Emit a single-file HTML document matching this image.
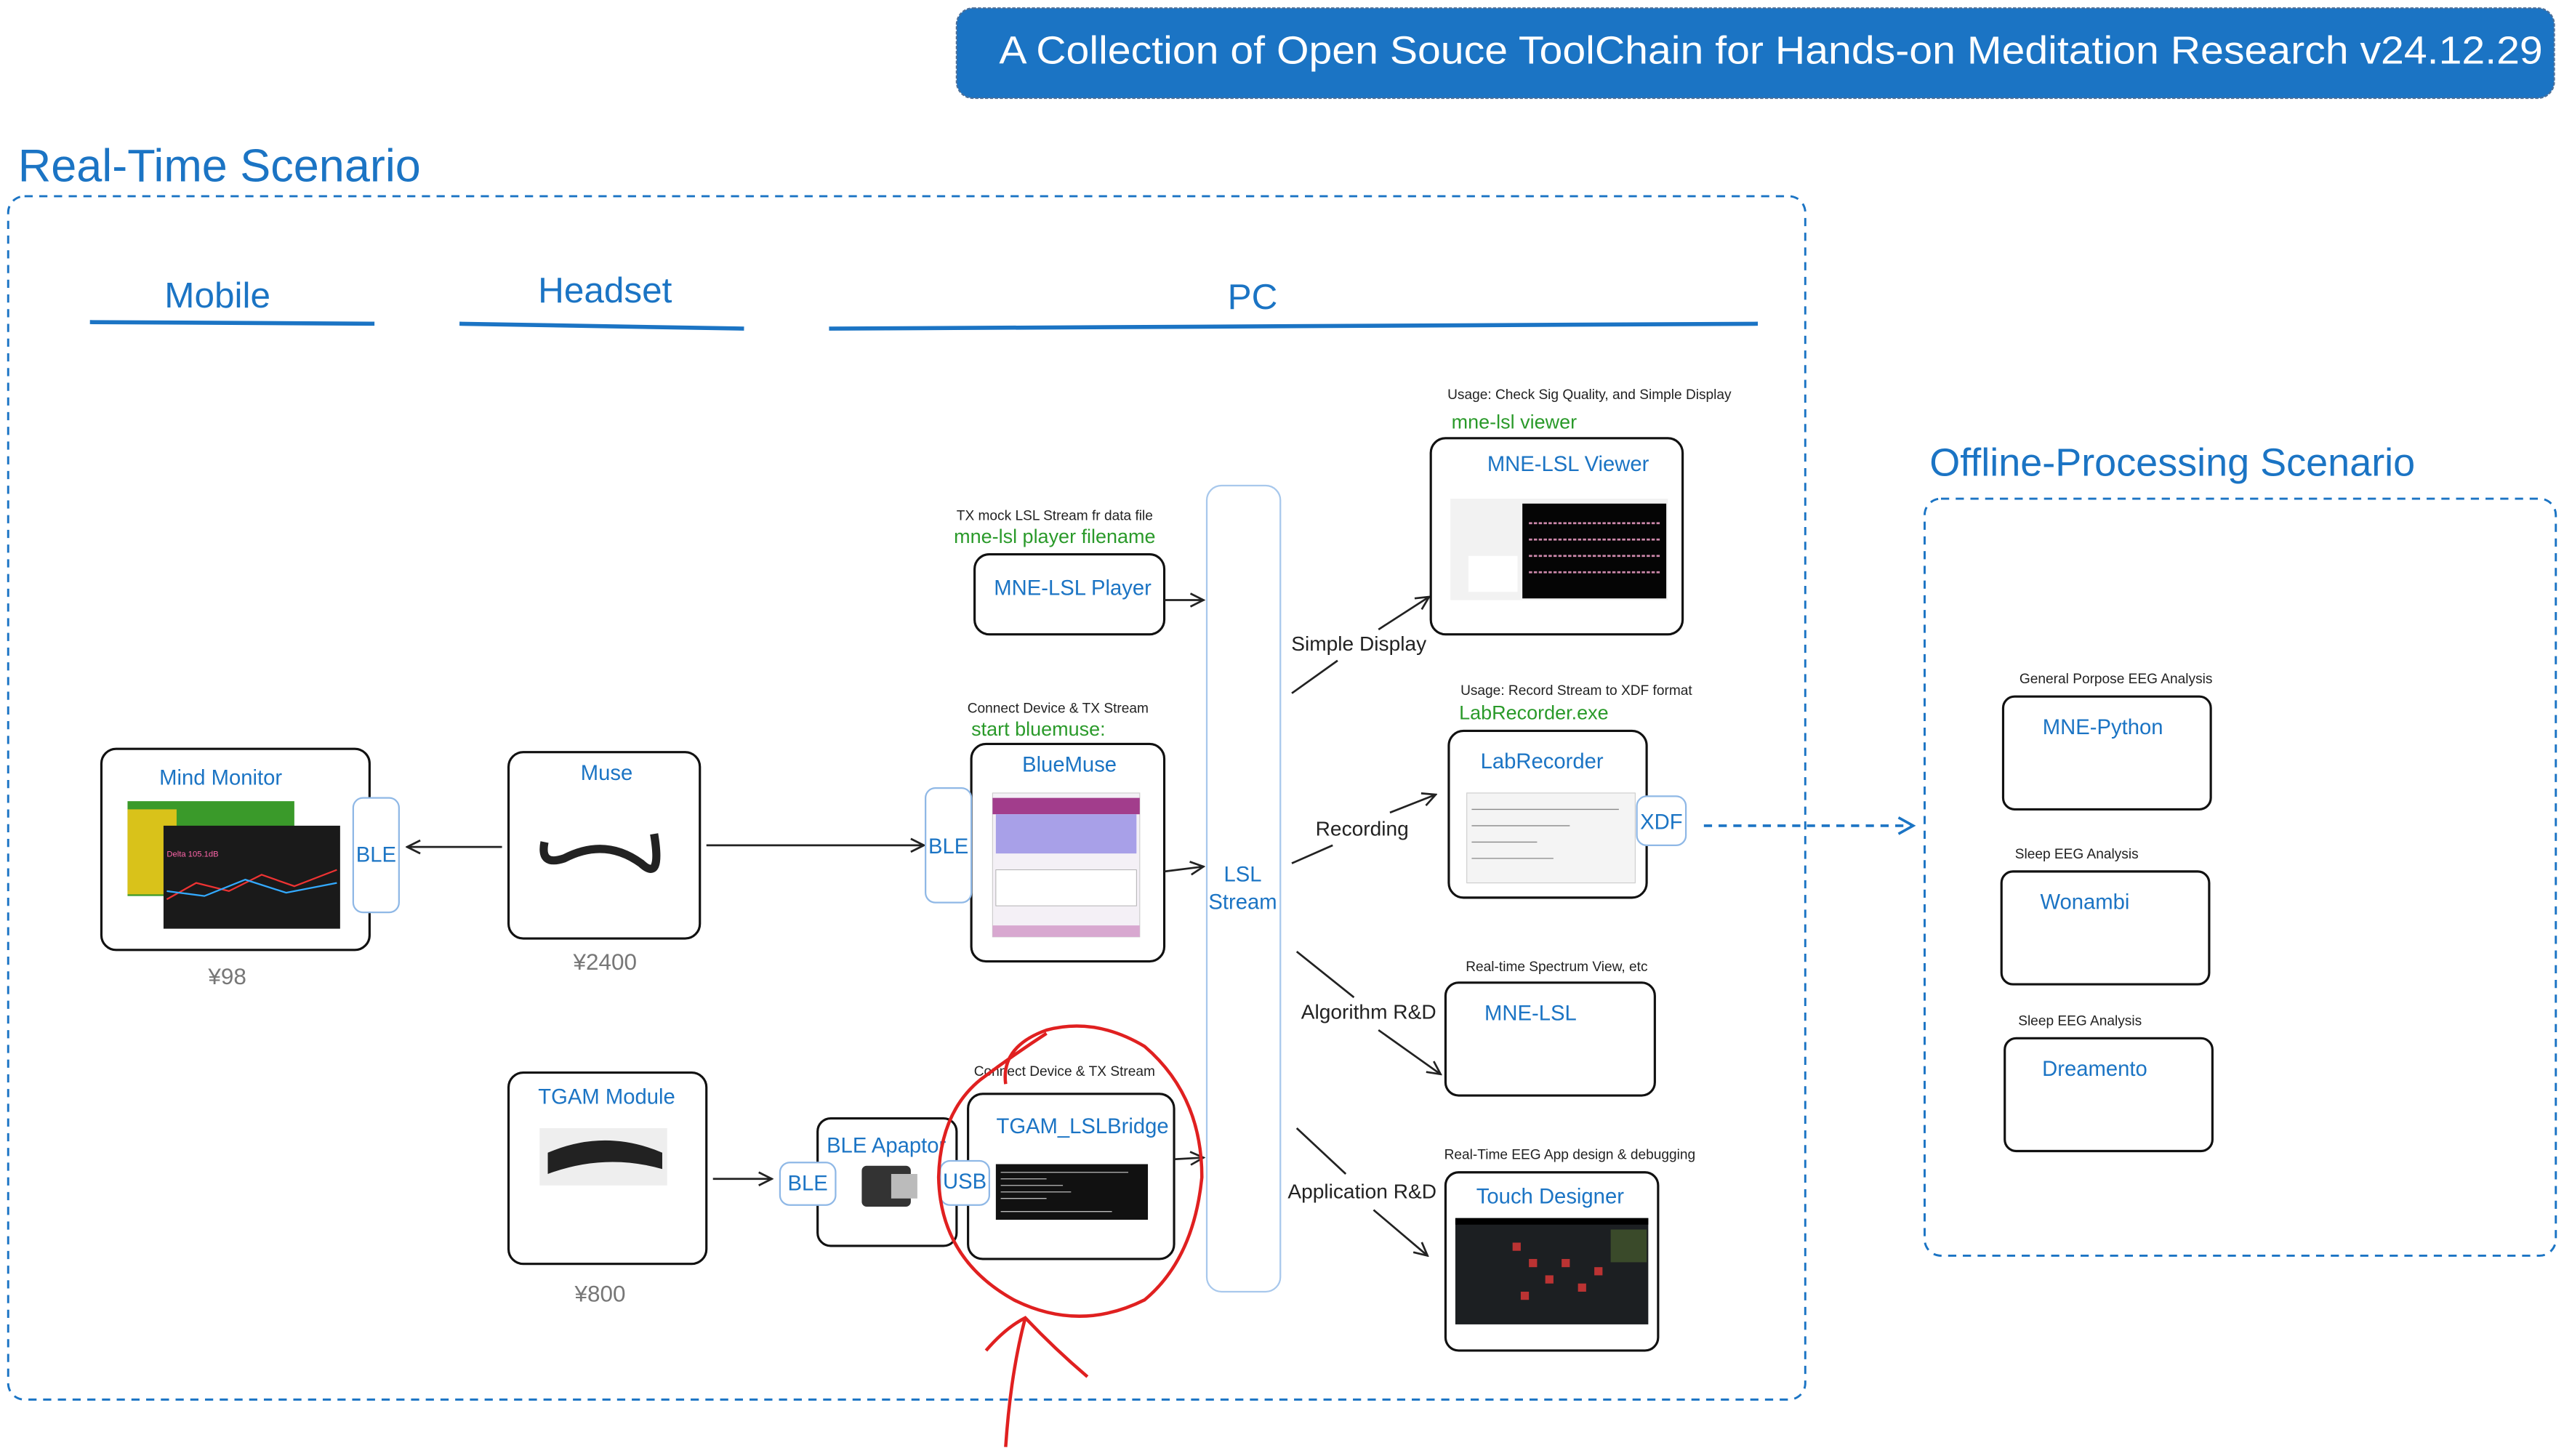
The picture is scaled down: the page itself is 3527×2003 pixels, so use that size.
<!DOCTYPE html>
<html><head><meta charset="utf-8"><style>
html,body{margin:0;padding:0;background:#fff;}
svg{display:block;font-family:"Liberation Sans",sans-serif;}
.b{fill:#1b74c4}
.n{fill:#1b74c4;font-size:13px;text-anchor:middle}
.s{fill:#222;font-size:8.5px;text-anchor:middle}
.g{fill:#2a9a2a;font-size:12px;text-anchor:middle}
.k{fill:#222;font-size:12.5px;text-anchor:middle}
.box{fill:#fff;stroke:#111;stroke-width:1.4}
.pill{fill:#fff;stroke:#8fb8e6;stroke-width:1}
.ln{stroke:#222;stroke-width:1.2;fill:none}
</style></head><body>
<svg width="3527" height="2003" viewBox="0 0 1568 890.5" preserveAspectRatio="none">
<defs><marker id="a" markerWidth="10" markerHeight="10" refX="9" refY="5" orient="auto" markerUnits="userSpaceOnUse"><path d="M1,1 L9,5 L1,9" fill="none" stroke="#222" stroke-width="1.2"/></marker>
<marker id="ab" markerWidth="12" markerHeight="12" refX="10" refY="6" orient="auto" markerUnits="userSpaceOnUse"><path d="M1,1 L10,6 L1,11" fill="none" stroke="#1b74c4" stroke-width="1.6"/></marker></defs>
<rect x="0" y="0" width="1568" height="891" fill="#fff"/>
<!-- title -->
<rect x="585" y="5" width="977" height="55" rx="10" fill="#1b74c4" stroke="#4a6f9a" stroke-dasharray="2 1"/>
<text x="611" y="39" fill="#fff" font-size="24" textLength="944" lengthAdjust="spacingAndGlyphs">A Collection of Open Souce ToolChain for Hands-on Meditation Research  v24.12.29</text>
<text x="11" y="111" class="b" font-size="28">Real-Time Scenario</text>
<rect x="5" y="120" width="1099" height="736" rx="10" fill="none" stroke="#1b74c4" stroke-width="1.3" stroke-dasharray="5 4"/>
<text x="133" y="188" class="b" font-size="22" text-anchor="middle">Mobile</text>
<text x="370" y="185" class="b" font-size="22" text-anchor="middle">Headset</text>
<text x="766" y="189" class="b" font-size="22" text-anchor="middle">PC</text>
<path d="M55,197 L229,198" stroke="#1b74c4" stroke-width="2.5"/>
<path d="M281,198 L455,201" stroke="#1b74c4" stroke-width="2.5"/>
<path d="M507,201 L1075,198" stroke="#1b74c4" stroke-width="2.5"/>
<!-- offline -->
<text x="1180" y="291" class="b" font-size="24">Offline-Processing Scenario</text>
<rect x="1177" y="305" width="386" height="463" rx="10" fill="none" stroke="#1b74c4" stroke-width="1.3" stroke-dasharray="5 4"/>
<text x="1294" y="418" class="s">General Porpose EEG Analysis</text>
<rect x="1225" y="426" width="127" height="69" rx="7" class="box"/><text x="1286" y="449" class="n">MNE-Python</text>
<text x="1270" y="525" class="s">Sleep EEG Analysis</text>
<rect x="1224" y="533" width="127" height="69" rx="7" class="box"/><text x="1275" y="556" class="n">Wonambi</text>
<text x="1272" y="627" class="s">Sleep EEG Analysis</text>
<rect x="1226" y="635" width="127" height="69" rx="7" class="box"/><text x="1281" y="658" class="n">Dreamento</text>
<!-- Mind monitor -->
<rect x="62" y="458" width="164" height="123" rx="9" class="box"/>
<text x="135" y="480" class="n">Mind Monitor</text>
<rect x="78" y="490" width="102" height="58" fill="#3a9a2a"/>
<rect x="78" y="495" width="30" height="52" fill="#d9c21a"/>
<rect x="100" y="505" width="108" height="63" fill="#1a1a1a"/>
<path d="M102,550 L120,540 L140,545 L160,535 L180,542 L206,532" stroke="#e33" fill="none"/>
<path d="M102,545 L125,548 L150,538 L175,546 L206,540" stroke="#3af" fill="none"/>
<text x="102" y="524" fill="#f6a" font-size="5">Delta 105.1dB</text>
<rect x="216" y="488" width="28" height="70" rx="6" class="pill"/><text x="230" y="527" class="n">BLE</text>
<text x="139" y="602" fill="#777" font-size="14" text-anchor="middle">¥98</text>
<!-- Muse -->
<rect x="311" y="460" width="117" height="114" rx="9" class="box"/>
<text x="371" y="477" class="n">Muse</text>
<path d="M333,515 Q330,530 345,525 Q370,512 392,528 Q405,540 400,510" stroke="#222" stroke-width="5" fill="none"/>
<text x="370" y="593" fill="#777" font-size="14" text-anchor="middle">¥2400</text>
<path d="M307,518 L249,518" class="ln" marker-end="url(#a)"/>
<path d="M432,517 L565,517" class="ln" marker-end="url(#a)"/>
<!-- BlueMuse -->
<text x="647" y="436" class="s">Connect Device &amp; TX Stream</text>
<text x="635" y="450" class="g">start bluemuse:</text>
<rect x="594" y="455" width="118" height="133" rx="9" class="box"/>
<text x="654" y="472" class="n">BlueMuse</text>
<rect x="607" y="485" width="90" height="88" fill="#f4f0f6" stroke="#ccc" stroke-width=".5"/>
<rect x="607" y="488" width="90" height="10" fill="#a23d8c"/>
<rect x="609" y="498" width="86" height="24" fill="#a8a0e8"/>
<rect x="609" y="532" width="86" height="22" fill="#fff" stroke="#aaa" stroke-width=".4"/>
<rect x="607" y="566" width="90" height="7" fill="#d8a8d0"/>
<rect x="566" y="482" width="28" height="70" rx="6" class="pill"/><text x="580" y="522" class="n">BLE</text>
<path d="M712,533 L736,530" class="ln" marker-end="url(#a)"/>
<!-- player -->
<text x="645" y="318" class="s">TX mock LSL Stream fr data file</text>
<text x="645" y="332" class="g">mne-lsl player filename</text>
<rect x="596" y="339" width="116" height="49" rx="9" class="box"/>
<text x="656" y="364" class="n">MNE-LSL Player</text>
<path d="M712,367 L736,367" class="ln" marker-end="url(#a)"/>
<!-- LSL bar -->
<rect x="738" y="297" width="45" height="493" rx="9" fill="#fff" stroke="#a8c8ec" stroke-width="1"/>
<text x="760" y="539" class="n">LSL</text><text x="760" y="556" class="n">Stream</text>
<!-- TGAM -->
<rect x="311" y="656" width="121" height="117" rx="9" class="box"/>
<text x="371" y="675" class="n">TGAM Module</text>
<rect x="330" y="690" width="78" height="35" fill="#eee"/>
<path d="M335,705 Q370,690 405,705 L405,715 Q370,705 335,718 Z" fill="#222"/>
<text x="367" y="796" fill="#777" font-size="14" text-anchor="middle">¥800</text>
<path d="M436,721 L472,721" class="ln" marker-end="url(#a)"/>
<rect x="500" y="684" width="85" height="78" rx="8" class="box"/>
<text x="542" y="705" class="n">BLE Apaptor</text>
<rect x="527" y="713" width="30" height="25" rx="3" fill="#333"/><rect x="545" y="718" width="16" height="15" fill="#bbb"/>
<rect x="477" y="711" width="34" height="26" rx="6" class="pill"/><text x="494" y="728" class="n">BLE</text>
<text x="651" y="658" class="s">Connect Device &amp; TX Stream</text>
<rect x="592" y="669" width="126" height="101" rx="9" class="box"/>
<text x="662" y="693" class="n">TGAM_LSLBridge</text>
<rect x="575" y="710" width="30" height="27" rx="6" class="pill"/><text x="590" y="727" class="n">USB</text>
<rect x="609" y="712" width="93" height="34" fill="#111"/>
<path d="M612,717 H690 M612,721 H640 M612,725 H650 M612,729 H655 M612,733 H640 M612,741 H680" stroke="#bbb" stroke-width=".6"/>
<path d="M718,709 L736,708" class="ln" marker-end="url(#a)"/>
<!-- red scribble -->
<path d="M615,663 Q612,640 640,630 Q670,622 700,640 Q735,670 735,720 Q730,770 700,795 Q660,815 620,795 Q575,770 574,720 Q575,680 600,660 Q620,645 640,632" fill="none" stroke="#e02020" stroke-width="2"/>
<path d="M615,885 Q618,840 627,806 M603,826 Q615,812 627,806 Q645,825 665,842" fill="none" stroke="#e02020" stroke-width="2"/>
<!-- right branches -->
<text x="831" y="398" class="k">Simple Display</text>
<path d="M790,424 L818,404" class="ln"/><path d="M843,385 L874,365" class="ln" marker-end="url(#a)"/>
<text x="972" y="244" class="s">Usage: Check Sig Quality, and Simple Display</text>
<text x="926" y="262" class="g">mne-lsl viewer</text>
<rect x="875" y="268" width="154" height="120" rx="9" class="box"/>
<text x="959" y="288" class="n">MNE-LSL Viewer</text>
<rect x="887" y="305" width="133" height="62" fill="#f2f2f2"/>
<rect x="931" y="308" width="88" height="58" fill="#050505"/>
<path d="M935,320 H1015 M935,330 H1015 M935,340 H1015 M935,350 H1015" stroke="#c8a" stroke-width="1.2" stroke-dasharray="2 1"/>
<rect x="898" y="340" width="30" height="22" fill="#fff"/>
<text x="833" y="511" class="k">Recording</text>
<path d="M790,528 L815,517" class="ln"/><path d="M850,497 L878,486" class="ln" marker-end="url(#a)"/>
<text x="964" y="425" class="s">Usage: Record Stream to XDF format</text>
<text x="938" y="440" class="g">LabRecorder.exe</text>
<rect x="886" y="447" width="121" height="102" rx="9" class="box"/>
<text x="943" y="470" class="n">LabRecorder</text>
<rect x="897" y="485" width="103" height="55" fill="#f4f4f4" stroke="#ccc" stroke-width=".5"/>
<path d="M900,495 H990 M900,505 H960 M900,515 H940 M900,525 H950" stroke="#888" stroke-width=".6"/>
<rect x="1001" y="487" width="30" height="30" rx="6" class="pill"/><text x="1016" y="507" class="n">XDF</text>
<path d="M1042,505 L1170,505" stroke="#1b74c4" stroke-width="1.6" stroke-dasharray="5 4" fill="none" marker-end="url(#ab)"/>
<text x="837" y="623" class="k">Algorithm R&amp;D</text>
<path d="M793,582 L828,610" class="ln"/><path d="M843,630 L881,657" class="ln" marker-end="url(#a)"/>
<text x="952" y="594" class="s">Real-time Spectrum View, etc</text>
<rect x="884" y="601" width="128" height="69" rx="8" class="box"/>
<text x="936" y="624" class="n">MNE-LSL</text>
<text x="833" y="733" class="k">Application R&amp;D</text>
<path d="M793,690 L823,718" class="ln"/><path d="M840,740 L873,768" class="ln" marker-end="url(#a)"/>
<text x="960" y="709" class="s">Real-Time EEG App design &amp; debugging</text>
<rect x="884" y="717" width="130" height="109" rx="8" class="box"/>
<text x="948" y="736" class="n">Touch Designer</text>
<rect x="890" y="745" width="118" height="65" fill="#1c1f22"/>
<rect x="890" y="745" width="118" height="4" fill="#000"/>
<rect x="985" y="752" width="22" height="20" fill="#3a4a2a"/>
<g fill="#b33"><rect x="925" y="760" width="5" height="5"/><rect x="935" y="770" width="5" height="5"/><rect x="945" y="780" width="5" height="5"/><rect x="955" y="770" width="5" height="5"/><rect x="965" y="785" width="5" height="5"/><rect x="930" y="790" width="5" height="5"/><rect x="975" y="775" width="5" height="5"/></g>
</svg>
</body></html>
